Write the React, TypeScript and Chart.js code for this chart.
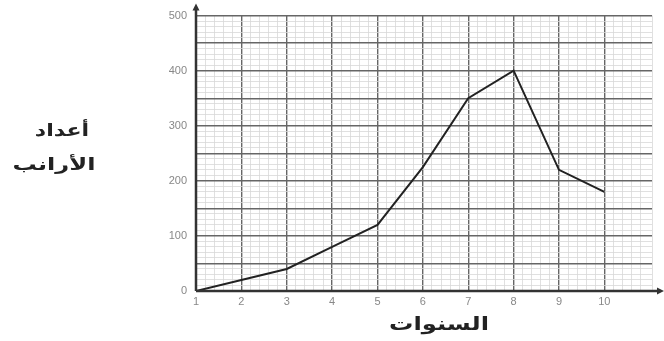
import React, { useEffect, useRef } from "react";
import { Chart, registerables } from "chart.js";

Chart.register(...registerables);

const years = [1, 2, 3, 4, 5, 6, 7, 8, 9, 10];
const rabbits = [0, 20, 40, 80, 120, 225, 350, 400, 220, 180];
const yTitleLines = ["أعداد", "الأرانب"];
const xTitle = "السنوات";

const isMult = (v: number, m: number) => Math.abs(v / m - Math.round(v / m)) < 1e-6;

function stretchedText(ctx: any, text: string, cx: number, cy: number, sx: number) {
  ctx.save();
  ctx.translate(cx, cy);
  ctx.scale(sx, 1);
  ctx.fillText(text, 0, 0);
  ctx.restore();
}

const decor = {
  id: "decor",
  afterDraw(chart: any) {
    const { ctx, chartArea } = chart;
    const xs = chart.scales.x;
    const ys = chart.scales.y;
    const x0 = xs.getPixelForValue(1);
    const y0 = ys.getPixelForValue(0);
    ctx.save();
    ctx.strokeStyle = "#333";
    ctx.fillStyle = "#333";
    ctx.lineWidth = 2.5;
    ctx.beginPath();
    ctx.moveTo(x0, y0);
    ctx.lineTo(x0, chartArea.top - 8);
    ctx.moveTo(x0, y0);
    ctx.lineTo(chartArea.right + 8, y0);
    ctx.stroke();
    ctx.beginPath();
    ctx.moveTo(x0, chartArea.top - 12);
    ctx.lineTo(x0 - 3.5, chartArea.top - 5);
    ctx.lineTo(x0 + 3.5, chartArea.top - 5);
    ctx.closePath();
    ctx.fill();
    ctx.beginPath();
    ctx.moveTo(chartArea.right + 12, y0);
    ctx.lineTo(chartArea.right + 5, y0 - 3.5);
    ctx.lineTo(chartArea.right + 5, y0 + 3.5);
    ctx.closePath();
    ctx.fill();
    ctx.fillStyle = "#222";
    ctx.textAlign = "center";
    ctx.textBaseline = "middle";
    ctx.font = "bold 17px 'DejaVu Sans', sans-serif";
    stretchedText(ctx, yTitleLines[0], 62, 132, 1.3);
    stretchedText(ctx, yTitleLines[1], 54, 166, 1.42);
    ctx.font = "bold 18px 'DejaVu Sans', sans-serif";
    stretchedText(ctx, xTitle, 439, 325, 1.35);
    ctx.restore();
  },
};

export default function App() {
  const ref = useRef<HTMLCanvasElement>(null);
  useEffect(() => {
    const chart = new Chart(ref.current!, {
      type: "line",
      data: {
        datasets: [
          {
            data: years.map((x, i) => ({ x, y: rabbits[i] })),
            borderColor: "#222",
            borderWidth: 2,
            pointRadius: 0,
            tension: 0,
          },
        ],
      },
      options: {
        animation: false,
        responsive: false,
        layout: { padding: { top: 15, right: 12, left: 0, bottom: 0 } },
        plugins: { legend: { display: false }, tooltip: { enabled: false } },
        scales: {
          x: {
            type: "linear",
            min: 1,
            max: 11.05,
            afterFit: (s: any) => {
              s.height = 50;
            },
            border: { display: false },
            grid: {
              drawTicks: false,
              color: (c: any) => (isMult(c.tick.value, 1) ? "#666" : "#d8d8d8"),
              lineWidth: (c: any) => (isMult(c.tick.value, 1) ? 1.4 : 0.8),
            },
            ticks: {
              stepSize: 0.2,
              autoSkip: false,
              maxRotation: 0,
              padding: 4,
              color: "#888",
              font: { size: 11, family: "'Liberation Sans', Arial, sans-serif" },
              callback: (v: any) => (isMult(v, 1) && v <= 10 ? String(Math.round(v)) : ""),
            },
          },
          y: {
            min: 0,
            max: 500,
            afterFit: (s: any) => {
              s.width = 196;
            },
            border: { display: false },
            grid: {
              drawTicks: false,
              color: (c: any) => (isMult(c.tick.value, 50) ? "#666" : "#d8d8d8"),
              lineWidth: (c: any) => (isMult(c.tick.value, 50) ? 1.4 : 0.8),
            },
            ticks: {
              stepSize: 10,
              autoSkip: false,
              padding: 9,
              color: "#888",
              font: { size: 11, family: "'Liberation Sans', Arial, sans-serif" },
              callback: (v: any) => (isMult(v, 100) ? String(v) : ""),
            },
          },
        },
      },
      plugins: [decor],
    } as any);
    return () => chart.destroy();
  }, []);
  return (
    <div style={{ position: "fixed", left: 0, top: 0, width: 664, height: 341, background: "#fff" }}>
      <canvas ref={ref} width={664} height={341} style={{ display: "block" }} />
    </div>
  );
}
